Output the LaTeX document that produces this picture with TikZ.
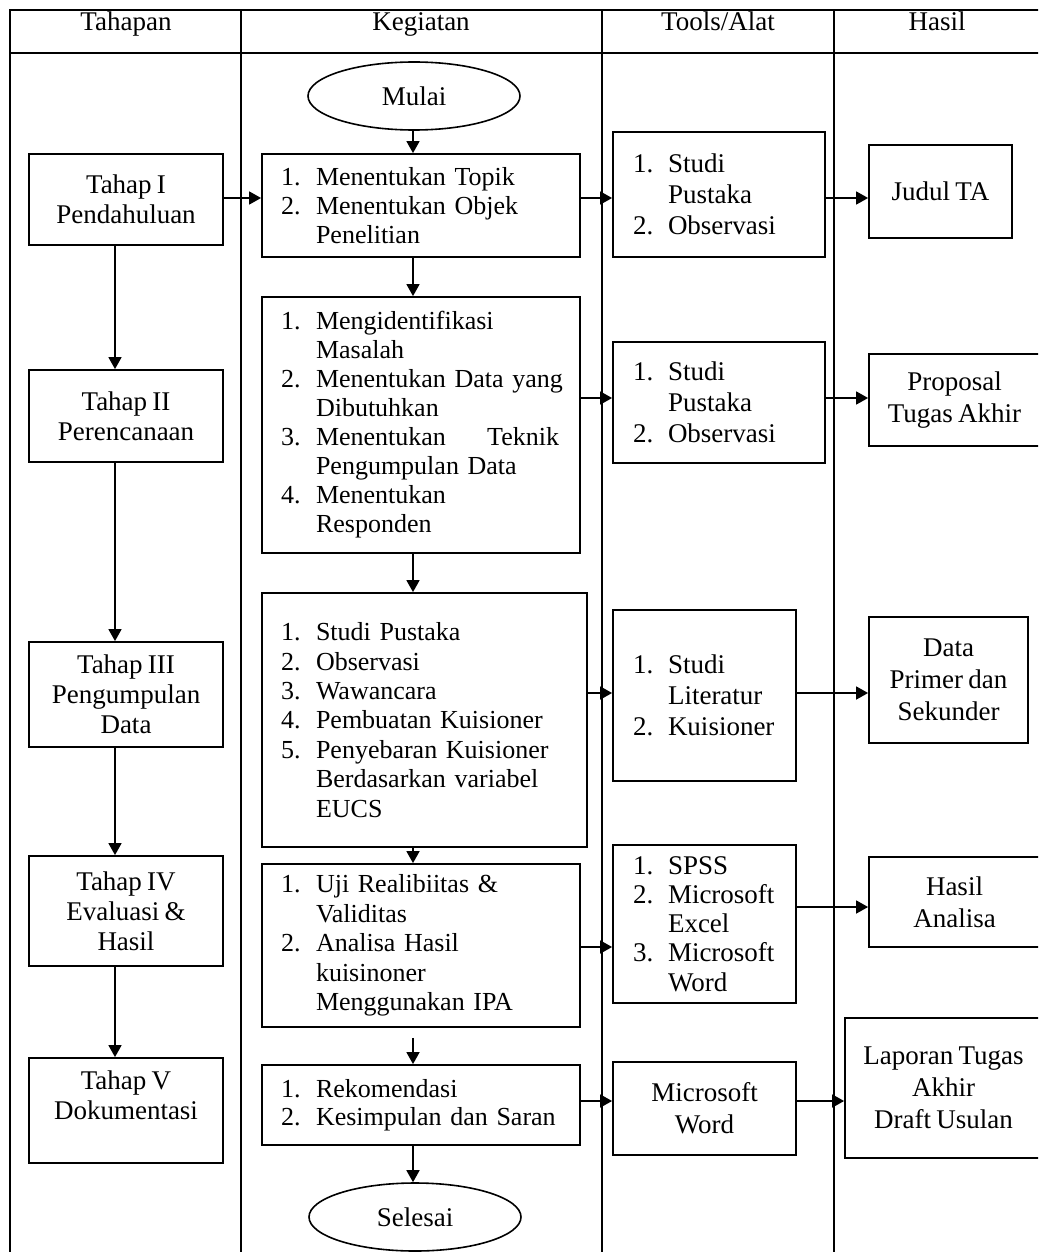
\documentclass[tikz,border=0pt]{standalone}
\usepackage{fontspec}
\setmainfont{Liberation Serif}
\usetikzlibrary{arrows.meta,shapes.geometric,calc}
\newcommand{\li}[2]{\mbox{\makebox[17.5pt][l]{#1}#2}}
\newcommand{\lc}[1]{\mbox{\hspace*{17.5pt}#1}}
\newcommand{\tsp}{\spaceskip=2pt plus 1pt minus 0.5pt\relax}
\newcommand{\nsp}{\spaceskip=2.6pt plus 1pt minus 0.5pt\relax}
\begin{document}
\begin{tikzpicture}[x=0.5pt,y=-0.5pt,
  every node/.style={inner sep=0pt},
  ln/.style={line width=0.9pt},
  box/.style={draw,line width=0.9pt,rectangle,inner ysep=0pt},
  hdr/.style={anchor=base,font=\fontsize{13.5}{15}\selectfont\nsp},
  tahap/.style={box,align=center,font=\fontsize{13.5}{15}\selectfont\nsp,minimum width=97pt},
  keg/.style={box,align=left,font=\fontsize{13}{14.5}\selectfont\tsp,minimum width=159pt,text width=140pt,inner xsep=9.5pt},
  tool/.style={box,align=left,font=\fontsize{13.5}{15.5}\selectfont\nsp,inner xsep=10pt},
  toolc/.style={box,align=center,font=\fontsize{13.5}{16}\selectfont\nsp},
  hasil/.style={box,align=center,font=\fontsize{13.5}{16}\selectfont\nsp},
  term/.style={draw,ellipse,line width=0.8pt,minimum width=106pt,minimum height=34pt,font=\fontsize{13.5}{15}\selectfont},
  arr/.style={line width=0.8pt,-{Triangle[length=6pt,width=6.5pt]}}
]
\useasboundingbox (0,0) rectangle (1038,1252);
\clip (0,0) rectangle (1038,1252);
\fill[white] (0,0) rectangle (1038,1252);

% table frame
\draw[ln] (10,1260) -- (10,10) -- (1045,10);
\draw[ln] (10,53) -- (1045,53);
\draw[ln] (241,10) -- (241,1260);
\draw[ln] (602,10) -- (602,1260);
\draw[ln] (834,10) -- (834,1260);

% headers
\node[hdr] (hd1) at (126,31) {Tahapan};
\node[hdr] (hd2) at (421,31) {Kegiatan};
\node[hdr] (hd3) at (718,31) {Tools/Alat};
\node[hdr] (hd4) at (937,31) {Hasil};

% Tahapan
\node[tahap,minimum height=45.5pt] (ta1) at (126,199.5) {Tahap I\\Pendahuluan};
\node[tahap,minimum height=46pt] (ta2) at (126,416) {Tahap II\\Perencanaan};
\node[tahap,minimum height=52.5pt] (ta3) at (126,694.5) {Tahap III\\Pengumpulan\\Data};
\node[tahap,minimum height=55pt] (ta4) at (126,911) {Tahap IV\\Evaluasi \&\\Hasil};
\node[tahap,minimum height=52.5pt] (ta5) at (126,1110.5) {Tahap V\\Dokumentasi\\\mbox{}};

% Kegiatan
\node[term] (mulai) at (414,96) {Mulai};
\node[keg,minimum height=51.5pt] (k1) at (421,205.5)
  {\li{1.}{Menentukan Topik}\\\li{2.}{Menentukan Objek}\\\lc{Penelitian}};
\node[keg,minimum height=128pt] (k2) at (421,425)
  {\li{1.}{Mengidentifikasi}\\\lc{Masalah}\\\li{2.}{Menentukan Data yang}\\\lc{Dibutuhkan}\\
   \li{3.}{\hbox to 121.5pt{Menentukan\hfill Teknik}}\\\lc{Pengumpulan Data}\\\li{4.}{Menentukan}\\\lc{Responden}};
\node[keg,minimum width=162.5pt,text width=143.5pt,minimum height=127pt,font=\fontsize{13}{14.7}\selectfont\tsp] (k3) at (424.5,720)
  {\li{1.}{Studi Pustaka}\\\li{2.}{Observasi}\\\li{3.}{Wawancara}\\\li{4.}{Pembuatan Kuisioner}\\
   \li{5.}{Penyebaran Kuisioner}\\\lc{Berdasarkan variabel}\\\lc{EUCS}};
\node[keg,minimum height=81.5pt,font=\fontsize{13}{14.75}\selectfont\tsp] (k4) at (421,945.5)
  {\li{1.}{Uji Realibiitas \&}\\\lc{Validitas}\\\li{2.}{Analisa Hasil}\\\lc{kuisinoner}\\\lc{Menggunakan IPA}};
\node[keg,minimum height=40pt,font=\fontsize{13}{14}\selectfont\tsp] (k5) at (421,1105)
  {\li{1.}{Rekomendasi}\\\li{2.}{Kesimpulan dan Saran}};
\node[term] (selesai) at (415,1217) {Selesai};

% Tools
\node[tool,text width=86pt,minimum height=62.5pt] (t1) at (719,194.5)
  {\li{1.}{Studi}\\\lc{Pustaka}\\\li{2.}{Observasi}};
\node[tool,text width=86pt,minimum height=60.5pt] (t2) at (719,402.5)
  {\li{1.}{Studi}\\\lc{Pustaka}\\\li{2.}{Observasi}};
\node[tool,text width=71.5pt,minimum height=85.5pt] (t3) at (704.5,695.5)
  {\li{1.}{Studi}\\\lc{Literatur}\\\li{2.}{Kuisioner}};
\node[tool,text width=71.5pt,minimum height=79pt,font=\fontsize{13.5}{14.6}\selectfont\nsp] (t4) at (704.5,924)
  {\li{1.}{SPSS}\\\li{2.}{Microsoft}\\\lc{Excel}\\\li{3.}{Microsoft}\\\lc{Word}};
\node[toolc,minimum width=91.5pt,minimum height=46.5pt] (t5) at (704.5,1108.5) {Microsoft\\Word};

% Hasil
\node[hasil,minimum width=71.5pt,minimum height=46.5pt] (h1) at (940.5,191.5) {Judul TA};
\node[hasil,minimum width=85.5pt,minimum height=46pt] (h2) at (954.5,400) {Proposal\\Tugas Akhir};
\node[hasil,minimum width=79.5pt,minimum height=63pt] (h3) at (948.5,680) {Data\\Primer dan\\Sekunder};
\node[hasil,minimum width=85.5pt,minimum height=45pt] (h4) at (954.5,902) {Hasil\\Analisa};
\node[hasil,minimum width=98.5pt,minimum height=70pt] (h5) at (943.5,1088) {Laporan Tugas\\Akhir\\Draft Usulan};

% guide coordinates
\coordinate (tx) at (115,0);
\coordinate (kx) at (413,0);
\coordinate (r1) at (0,198);
\coordinate (r2) at (0,398);
\coordinate (r3) at (0,693);
\coordinate (r4) at (0,947);
\coordinate (r4b) at (0,907);
\coordinate (r5) at (0,1101);

% Tahapan arrows
\draw[arr] (ta1.south -| tx) -- (ta2.north -| tx);
\draw[arr] (ta2.south -| tx) -- (ta3.north -| tx);
\draw[arr] (ta3.south -| tx) -- (ta4.north -| tx);
\draw[arr] (ta4.south -| tx) -- (ta5.north -| tx);

% Kegiatan arrows
\draw[arr] (mulai.south -| kx) -- (k1.north -| kx);
\draw[arr] (k1.south -| kx) -- (k2.north -| kx);
\draw[arr] (k2.south -| kx) -- (k3.north -| kx);
\draw[arr] (k3.south -| kx) -- (k4.north -| kx);
\draw[arr] ($(k4.south -| kx)+(0,10)$) -- (k5.north -| kx);
\draw[arr] (k5.south -| kx) -- (selesai.north -| kx);

% horizontal arrows
\draw[arr] (ta1.east |- r1) -- (k1.west |- r1);
\draw[arr] (k1.east |- r1) -- (t1.west |- r1);
\draw[arr] (t1.east |- r1) -- (h1.west |- r1);
\draw[arr] (k2.east |- r2) -- (t2.west |- r2);
\draw[arr] (t2.east |- r2) -- (h2.west |- r2);
\draw[arr] (k3.east |- r3) -- (t3.west |- r3);
\draw[arr] (t3.east |- r3) -- (h3.west |- r3);
\draw[arr] (k4.east |- r4) -- (t4.west |- r4);
\draw[arr] (t4.east |- r4b) -- (h4.west |- r4b);
\draw[arr] (k5.east |- r5) -- (t5.west |- r5);
\draw[arr] (t5.east |- r5) -- (h5.west |- r5);
\end{tikzpicture}
\end{document}
